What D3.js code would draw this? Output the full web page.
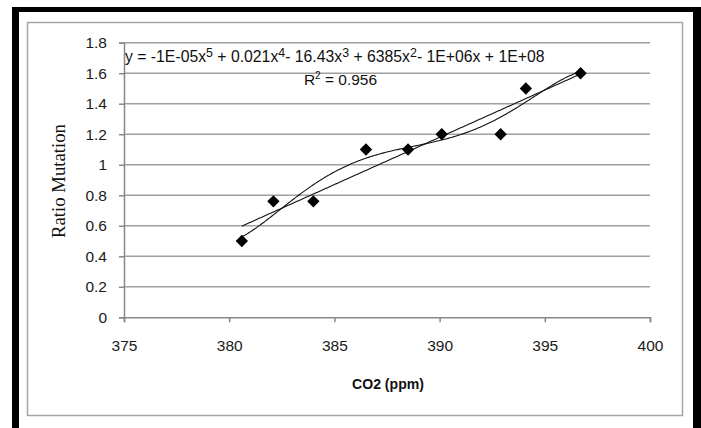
<!DOCTYPE html>
<html><head><meta charset="utf-8">
<script src="https://cdn.jsdelivr.net/npm/d3@7"></script>
<style>html,body{margin:0;padding:0;background:#fff;}svg{display:block;}</style>
</head><body>
<svg id="chart" width="701" height="428"></svg>
<script>
// ---- data ----
const co2 = [380.6, 382.1, 384.0, 386.5, 388.5, 390.1, 392.9, 394.1, 396.7];
const ratio = [0.5, 0.76, 0.76, 1.1, 1.1, 1.2, 1.2, 1.5, 1.6];
const xTicks = [375, 380, 385, 390, 395, 400];
const yTicks = [0, 0.2, 0.4, 0.6, 0.8, 1.0, 1.2, 1.4, 1.6, 1.8];
const yTickLabels = ["0", "0.2", "0.4", "0.6", "0.8", "1", "1.2", "1.4", "1.6", "1.8"];
const xTitle = "CO2 (ppm)";
const yTitle = "Ratio Mutation";
const eqParts = [["y = -1E-05x",""],["5","sup"],[" + 0.021x",""],["4","sup"],["- 16.43x",""],["3","sup"],[" + 6385x",""],["2","sup"],["- 1E+06x + 1E+08",""]];
const r2Text = "= 0.956";

// ---- least squares polynomial fit (trendlines) ----
function polyfit(xs, ys, deg) {
  const m = d3.mean(xs), s = (d3.max(xs) - d3.min(xs)) / 2;
  const n = deg + 1;
  const A = Array.from({length: n}, () => new Array(n + 1).fill(0));
  xs.forEach((x, k) => {
    const t = (x - m) / s;
    const p = []; for (let i = 0; i < n; i++) p.push(Math.pow(t, i));
    for (let i = 0; i < n; i++) { for (let j = 0; j < n; j++) A[i][j] += p[i] * p[j]; A[i][n] += p[i] * ys[k]; }
  });
  for (let c = 0; c < n; c++) {
    let piv = c; for (let r = c + 1; r < n; r++) if (Math.abs(A[r][c]) > Math.abs(A[piv][c])) piv = r;
    [A[c], A[piv]] = [A[piv], A[c]];
    for (let r = 0; r < n; r++) if (r !== c) { const f = A[r][c] / A[c][c]; for (let j = c; j <= n; j++) A[r][j] -= f * A[c][j]; }
  }
  const coef = A.map((row, i) => row[n] / row[i]);
  return x => { const t = (x - m) / s; let v = 0; for (let i = n - 1; i >= 0; i--) v = v * t + coef[i]; return v; };
}

const svg = d3.select("#chart");
// outer black frame
svg.append("rect").attr("x", 12).attr("y", 7).attr("width", 689).attr("height", 5).attr("fill", "#000");
svg.append("rect").attr("x", 12).attr("y", 7).attr("width", 7).attr("height", 421).attr("fill", "#000");
svg.append("rect").attr("x", 693).attr("y", 7).attr("width", 8).attr("height", 421).attr("fill", "#000");
// inner chart-area border
svg.append("rect").attr("x", 27.5).attr("y", 22.5).attr("width", 655).attr("height", 393)
  .attr("fill", "#fff").attr("stroke", "#a6a6a6").attr("stroke-width", 1.5);

const x = d3.scaleLinear().domain([375, 400]).range([124, 650]);
const y = d3.scaleLinear().domain([0, 1.8]).range([317.3, 42.7]);

// gridlines
svg.append("g").selectAll("line").data(yTicks.slice(1)).join("line")
  .attr("x1", x(375)).attr("x2", x(400)).attr("y1", d => y(d)).attr("y2", d => y(d))
  .attr("stroke", "#a0a0a0").attr("stroke-width", 1.5);

// axes
const tickFont = "'Liberation Sans', Arial, sans-serif";
const yAxis = svg.append("g").attr("transform", `translate(${x(375)},0)`)
  .call(d3.axisLeft(y).tickValues(yTicks).tickFormat((d, i) => yTickLabels[i]).tickSize(5).tickPadding(12));
const xAxis = svg.append("g").attr("transform", `translate(0,${y(0)})`)
  .call(d3.axisBottom(x).tickValues(xTicks).tickFormat(d3.format("d")).tickSize(5).tickPadding(18));
[yAxis, xAxis].forEach(g => {
  g.select(".domain").attr("stroke", "#888").attr("stroke-width", 1.5);
  g.selectAll(".tick line").attr("stroke", "#888").attr("stroke-width", 1.5);
  g.selectAll(".tick text").attr("fill", "#1a1a1a").style("font-family", tickFont).style("font-size", "15.5px");
});

// trendlines
const xs = d3.range(d3.min(co2), d3.max(co2) + 0.001, 0.05);
const lin = polyfit(co2, ratio, 1);
const poly5 = polyfit(co2, ratio, 5);
const line = f => d3.line().x(d => x(d)).y(d => y(f(d))).curve(d3.curveLinear)(xs);
svg.append("path").attr("d", line(lin)).attr("fill", "none").attr("stroke", "#111").attr("stroke-width", 1.1);
svg.append("path").attr("d", line(poly5)).attr("fill", "none").attr("stroke", "#111").attr("stroke-width", 1.1);

// markers
svg.append("g").selectAll("path").data(co2).join("path")
  .attr("d", d3.symbol().type(d3.symbolSquare).size(76))
  .attr("transform", (d, i) => `translate(${x(d)},${y(ratio[i])}) rotate(45)`)
  .attr("fill", "#000");

// equation label
const eq = svg.append("text").attr("x", 125).attr("y", 62)
  .style("font-family", tickFont).style("font-size", "14px").attr("fill", "#111");
eqParts.forEach(([t, k], i) => {
  const ts = eq.append("tspan").text(t);
  if (k === "sup") ts.attr("dy", -5).style("font-size", "11px");
  else if (i > 0 && eqParts[i - 1][1] === "sup") ts.attr("dy", 5);
});
const eqW = eq.node().getComputedTextLength();
eq.style("font-size", (14 * 420 / eqW) + "px");
eq.selectAll("tspan").filter((d, i) => eqParts[i][1] === "sup").style("font-size", (11 * 420 / eqW) + "px");

const r2 = svg.append("text").attr("x", 340.5).attr("y", 85).attr("text-anchor", "middle")
  .style("font-family", tickFont).style("font-size", "15.5px").attr("fill", "#111");
r2.append("tspan").text("R");
r2.append("tspan").text("2").attr("dy", -6).style("font-size", "10px");
r2.append("tspan").text(" " + r2Text).attr("dy", 6);

// axis titles
const xt = svg.append("text").attr("x", 388).attr("y", 389).attr("text-anchor", "middle")
  .style("font-family", tickFont).style("font-size", "12.5px").style("font-weight", "bold").attr("fill", "#111").text(xTitle);
const yt = svg.append("text").attr("transform", "translate(65,181) rotate(-90)").attr("text-anchor", "middle")
  .style("font-family", "'Liberation Serif', 'Times New Roman', serif").style("font-size", "15px").attr("fill", "#111").text(yTitle);
const ytW = yt.node().getComputedTextLength();
yt.style("font-size", (15 * 114 / ytW) + "px");
const xtW = xt.node().getComputedTextLength();
xt.style("font-size", (12.5 * 72 / xtW) + "px");
</script>
</body></html>
